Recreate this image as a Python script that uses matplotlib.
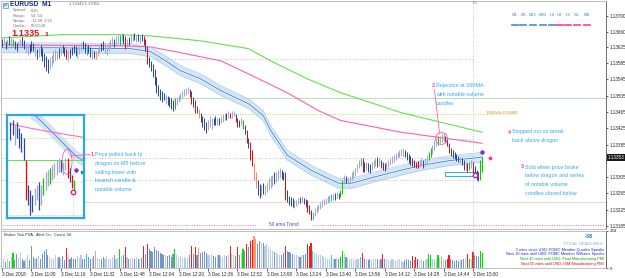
import matplotlib
matplotlib.use("Agg")
import matplotlib.pyplot as plt
from matplotlib.patches import Rectangle, Ellipse
from matplotlib.transforms import Affine2D

plt.rcParams['font.family'] = ['Liberation Sans', 'DejaVu Sans']

W, H = 625, 278
BASE = 1.13  # all prices below are in points (0.00001) above BASE

# --- M1 bars, 3 Dec 2018 from 10:44 -------------------------------------
HI = [644, 649, 639, 644, 651, 646, 644, 639, 634, 639,
      644, 649, 642, 634, 629, 632, 639, 634, 627, 620,
      624, 629, 622, 610, 602, 595, 600, 605, 615, 620,
      615, 622, 627, 629, 624, 620, 615, 620, 624, 629,
      627, 622, 627, 634, 639, 634, 627, 629, 624, 620,
      615, 615, 622, 629, 634, 639, 634, 629, 637, 644,
      649, 644, 651, 656, 654, 659, 656, 651, 644, 649,
      654, 656, 659, 654, 656, 654, 656, 651, 644, 627,
      600, 590, 583, 571, 551, 532, 522, 517, 512, 507,
      505, 502, 498, 493, 498, 502, 507, 512, 517, 522,
      524, 527, 522, 517, 502, 493, 480, 473, 463, 456,
      449, 439, 444, 454, 449, 451, 454, 449, 451, 454,
      459, 463, 461, 466, 463, 468, 468, 459, 449, 444,
      449, 444, 434, 420, 400, 390, 371, 339, 317, 298,
      288, 285, 290, 285, 293, 302, 307, 310, 317, 317,
      322, 327, 322, 317, 317, 273, 259, 256, 254, 249,
      249, 254, 256, 259, 254, 251, 249, 237, 224, 220,
      229, 234, 239, 244, 249, 251, 254, 259, 261, 263,
      263, 266, 268, 266, 273, 298, 310, 307, 302, 307,
      317, 322, 327, 337, 346, 351, 351, 342, 342, 339,
      337, 342, 346, 351, 354, 351, 346, 342, 339, 342,
      346, 351, 356, 359, 363, 366, 371, 373, 376, 371,
      366, 361, 356, 351, 346, 342, 344, 346, 351, 346,
      351, 359, 366, 376, 383, 395, 402, 405, 407, 410,
      412, 407, 400, 388, 376, 371, 366, 361, 356, 354,
      351, 346, 342, 339, 342, 346, 342, 332, 322, 317,
      346, 354]
LO = [624, 629, 620, 622, 629, 624, 627, 620, 615, 622,
      624, 627, 620, 610, 605, 610, 615, 615, 602, 595,
      600, 602, 590, 576, 566, 561, 571, 578, 585, 590,
      595, 598, 605, 610, 602, 595, 590, 598, 605, 610,
      602, 598, 607, 615, 620, 610, 605, 610, 600, 595,
      598, 595, 602, 610, 615, 617, 610, 605, 615, 622,
      627, 624, 629, 634, 629, 639, 632, 620, 624, 629,
      634, 639, 642, 637, 639, 634, 639, 629, 615, 583,
      576, 566, 551, 532, 512, 505, 493, 488, 493, 485,
      483, 478, 473, 468, 473, 483, 490, 495, 500, 505,
      507, 510, 502, 485, 478, 463, 461, 449, 439, 429,
      420, 412, 420, 429, 424, 432, 434, 432, 434, 437,
      439, 444, 446, 449, 449, 451, 454, 439, 429, 427,
      432, 424, 410, 388, 376, 346, 332, 298, 278, 261,
      254, 259, 263, 261, 268, 273, 278, 283, 288, 293,
      298, 302, 300, 298, 249, 244, 237, 234, 232, 229,
      234, 239, 242, 244, 239, 232, 220, 215, 200, 200,
      210, 217, 222, 227, 232, 237, 239, 242, 244, 246,
      249, 249, 254, 251, 256, 263, 288, 290, 288, 290,
      298, 302, 307, 317, 327, 332, 317, 317, 322, 317,
      315, 322, 327, 332, 329, 332, 327, 322, 320, 324,
      329, 334, 339, 342, 346, 351, 354, 356, 356, 354,
      346, 339, 334, 332, 329, 327, 327, 329, 334, 327,
      332, 337, 346, 354, 361, 371, 381, 385, 388, 390,
      393, 390, 381, 363, 356, 351, 349, 344, 342, 339,
      334, 322, 322, 317, 322, 327, 315, 307, 298, 295,
      298, 317]
# PVA colour class per bar: n bear, g bull, G/R climax, O/C rising volume
PVA = ''.join(["ngngngGnng", "gnnggnnngn", "gnnnnngggg", "gngnnRgnnn",
               "ngggnnCnng", "nOggnngggg", "gnggGgnRgn", "ggngngnRnR",
               "nnnnnnnnng", "nnnnGggggg", "ggnRnRnOnn", "nngggnngng",
               "ggngRggnRn", "gGnRnRROOn", "ngngggggng", "ggnnRnnnng",
               "ggngnnRRRC", "gggggggggC", "gngnGGgngg", "gggggCRngn",
               "ngggngnRng", "gggggggggn", "nnnRnRRggn", "ggGGgggGgO",
               "gnRRnnnnng", "nngRGgRnnn", "GG"])
VOL = [40, 55, 35, 60, 45, 70, 95, 50, 90, 65,
       100, 55, 45, 60, 80, 50, 140, 70, 55, 65,
       75, 60, 90, 110, 120, 85, 70, 60, 55, 80,
       65, 70, 60, 75, 50, 125, 80, 60, 70, 55,
       60, 75, 65, 80, 55, 60, 90, 70, 60, 65,
       75, 110, 65, 60, 55, 70, 60, 75, 55, 60,
       70, 80, 55, 65, 120, 75, 85, 130, 70, 60,
       55, 65, 60, 70, 55, 60, 65, 140, 90, 150,
       120, 110, 100, 130, 115, 105, 95, 90, 80, 85,
       75, 80, 70, 90, 120, 85, 70, 75, 65, 70,
       60, 65, 80, 140, 90, 130, 85, 125, 95, 100,
       110, 95, 85, 80, 90, 75, 70, 85, 80, 75,
       70, 80, 75, 85, 140, 90, 80, 75, 130, 85,
       95, 120, 110, 150, 130, 170, 180, 200, 185, 150,
       170, 160, 155, 140, 150, 130, 120, 110, 100, 95,
       90, 85, 80, 95, 140, 110, 100, 95, 90, 85,
       80, 75, 70, 80, 85, 90, 150, 140, 160, 110,
       95, 90, 85, 80, 75, 70, 65, 60, 55, 80,
       60, 55, 65, 60, 70, 110, 90, 70, 65, 60,
       60, 55, 50, 60, 55, 70, 95, 60, 55, 50,
       55, 50, 60, 55, 60, 50, 55, 90, 60, 55,
       50, 45, 55, 50, 45, 50, 55, 45, 40, 50,
       55, 50, 45, 75, 50, 70, 60, 50, 55, 45,
       50, 60, 90, 85, 60, 55, 60, 80, 65, 70,
       55, 50, 60, 85, 55, 50, 45, 50, 45, 55,
       50, 55, 65, 90, 60, 55, 100, 80, 75, 70,
       110, 95]
VOL_MAX = 234

TIME_TICKS = [0, 16, 32, 48, 64, 80, 96, 112, 128, 144, 160, 176, 192, 208, 224, 240, 256]
TIME_LABELS = ["3 Dec 2018", "3 Dec 11:00", "3 Dec 11:16", "3 Dec 11:32", "3 Dec 11:48",
               "3 Dec 12:04", "3 Dec 12:20", "3 Dec 12:36", "3 Dec 12:52", "3 Dec 13:08",
               "3 Dec 13:24", "3 Dec 13:40", "3 Dec 13:56", "3 Dec 14:12", "3 Dec 14:28",
               "3 Dec 14:44", "3 Dec 15:00"]
PRICE_TICKS = [700, 660, 625, 585, 545, 505, 465, 425, 385, 305, 265, 225, 185]
BID, ASK = 343, 353

# moving averages (bar index, price points)
MA200_I = [0, 32, 65, 81, 108, 134, 146, 166, 184, 217, 261]
MA200_P = [646, 654, 654, 651, 639, 620, 590, 546, 512, 463, 415]
MA100_I = [0, 65, 81, 97, 119, 134, 155, 172, 184, 217, 261]
MA100_P = [629, 627, 624, 610, 590, 558, 512, 468, 444, 415, 388]
DRAGON_I = [0, 32, 54, 70, 81, 89, 97, 108, 119, 134, 142, 146, 155, 168, 183, 190,
            202, 217, 228, 244, 261]
DRAGON_P = [622, 622, 620, 620, 612, 590, 566, 546, 517, 485, 456, 420, 359, 322, 290,
            290, 305, 322, 334, 346, 354]
DRAGON_HALF = 12

GREY_LEVELS = [595, 398, 351, 298]
GREEN_LEVEL = 498
DAILY_LEVEL = 460
BEIGE_LEVEL = 244
EMA_TREND_LEVEL = 188
FRI_BAR = 256

ZONE = (241, 259, 307, 317)      # bar from, bar to, low, high
REJECT = (238.6, 400)
ENTRY = (257, 310)
DOT_PURPLE = (261, 366)
DOT_PINK = (265, 351)

# --- M5 inset picture ----------------------------------------------------
M5_HI = [439, 444, 432, 439, 424, 412, 400, 346, 285, 273, 261, 278, 285, 293, 285,
         302, 317, 322, 327, 334, 339, 346, 351, 346, 342, 351, 351, 327, 310, 298]
M5_LO = [395, 407, 383, 400, 376, 366, 346, 249, 237, 212, 220, 237, 249, 224, 237,
         261, 273, 283, 288, 298, 302, 310, 317, 317, 310, 322, 302, 293, 278, 268]
M5_PVA = "nngnnnnRnnnggngGggGggggnggRnRG"
M5_MA_I = [0, 9, 18, 27, 33]
M5_MA_P = [434, 424, 415, 407, 402]
M5_DRAGON_I = [9, 12, 18, 22.6, 27, 30.3, 33]
M5_DRAGON_P = [463, 451, 420, 395, 371, 354, 346]
M5_GREEN = 346
M5_LIME = 400
M5_GREY = 293
M5_LILAC = 212
M5_VLINE = 28.5
M5_ELLIPSE = (25.8, 342)
M5_ENTRY = (28.5, 268)
M5_DOT = (29.9, 322)
M5_DOT2 = (32.6, 317)

CANDLE_COL = {'n': '#2c4a9a', 'g': '#a3a9cc', 'G': '#00cc00', 'R': '#ff0000',
              'O': '#ff8a55', 'C': '#00ccff'}
VOL_COL = {'n': '#7396c6', 'g': '#b8cce6', 'G': '#00e000', 'R': '#ff1a1a',
           'O': '#ff9a70', 'C': '#22d2f0'}

fig = plt.figure(figsize=(W / 100, H / 100), dpi=100)
fig.patch.set_facecolor('white')
px = Affine2D().scale(1.0 / W, -1.0 / H).translate(0, 1) + fig.transFigure


def box(l, t, r, b):
    return [l / W, 1 - b / H, (r - l) / W, (b - t) / H]


ax = fig.add_axes(box(1, 1, 606, 229))
vax = fig.add_axes(box(1, 231, 606, 268))
n = min(len(HI), len(LO), len(PVA), len(VOL))
XL = (-0.5, 328.3)

# main chart
ax.set_xlim(*XL)
ax.set_ylim(178, 736.6)
for lv in GREY_LEVELS:
    ax.plot([0, FRI_BAR], [lv, lv], color='#b0b0b0', lw=0.6, ls=(0, (1, 2)))
ax.axhline(GREEN_LEVEL, color='#b6e3b6', lw=0.7)
ax.plot([0, 263], [DAILY_LEVEL, DAILY_LEVEL], color='#b8e05a', lw=0.6, ls=(0, (1.5, 1.5)))
ax.axhline(BEIGE_LEVEL, color='#e3dcc8', lw=0.8)
ax.plot([0, 138], [EMA_TREND_LEVEL] * 2, color='#ff66cc', lw=0.7, ls=(0, (1, 1.5)))
ax.plot([169, 328], [EMA_TREND_LEVEL] * 2, color='#ff66cc', lw=0.7, ls=(0, (1, 1.5)))
ax.text(153.5, EMA_TREND_LEVEL, "50 ema Trend", fontsize=3.4, color='#4b4bb5',
        ha='center', va='center')
ax.axvline(FRI_BAR, color='#b0b0b0', lw=0.6, ls=(0, (1, 2)))

ax.plot(MA200_I, MA200_P, color='#66e04d', lw=0.8)
ax.plot(MA100_I, MA100_P, color='#ff5fae', lw=0.8)
dlo = [p - DRAGON_HALF for p in DRAGON_P]
dhi = [p + DRAGON_HALF for p in DRAGON_P]
ax.fill_between(DRAGON_I, dlo, dhi, color='#d3e4f7', lw=0)
ax.plot(DRAGON_I, dhi, color='#aecbee', lw=0.5)
ax.plot(DRAGON_I, dlo, color='#aecbee', lw=0.5)
ax.plot(DRAGON_I, DRAGON_P, color='white', lw=1.6)
ax.plot(DRAGON_I, DRAGON_P, color='#3f86d8', lw=0.7)

for i in range(n):
    ax.vlines(i, LO[i], HI[i], colors=CANDLE_COL[PVA[i]], lw=0.72)

ax.add_patch(Rectangle((ZONE[0], ZONE[2]), ZONE[1] - ZONE[0], ZONE[3] - ZONE[2],
                       fill=False, ec='#29aee6', lw=0.7))
ax.plot(*REJECT, 'o', ms=8.5, mfc='none', mec='#ff5fae', mew=0.7)
ax.plot(*ENTRY, 'o', ms=3.2, mfc='white', mec='#e0208a', mew=1.0)
ax.plot(*DOT_PURPLE, 'o', ms=2.2, color='#8a2be2')
ax.plot(*DOT_PINK, '*', ms=2.5, color='#ff3399')

ax.yaxis.tick_right()
ax.set_yticks(PRICE_TICKS)
ax.set_yticklabels([f"{BASE + t / 1e5:.5f}" for t in PRICE_TICKS])
ax.tick_params(axis='y', labelsize=3.3, length=1.5, width=0.5, pad=1, colors='#222222')
ax.set_xticks([])
for s in ax.spines.values():
    s.set_color('#b5b5b5')
    s.set_linewidth(0.6)
ax.spines['right'].set_color('#555555')
ax.text(1.003, ASK, f"{BASE + ASK / 1e5:.5f}", transform=ax.get_yaxis_transform(),
        fontsize=3.3, color='white', va='center', ha='left',
        bbox=dict(boxstyle='square,pad=0.15', fc='#1a1a1a', ec='none'))

# volume panel
vax.set_xlim(*XL)
vax.set_ylim(0, VOL_MAX)
vax.bar(range(n), VOL[:n], width=0.62, color=[VOL_COL[c] for c in PVA[:n]], lw=0)
vax.axvline(FRI_BAR, color='#b0b0b0', lw=0.6, ls=(0, (1, 2)))
vax.yaxis.tick_right()
vax.set_yticks([0, VOL_MAX])
vax.set_yticklabels(["0", str(VOL_MAX)])
vax.tick_params(axis='y', labelsize=3.2, length=1.5, width=0.5, pad=1, colors='#222222')
vax.set_xticks(TIME_TICKS)
vax.set_xticklabels(TIME_LABELS, ha='left')
vax.tick_params(axis='x', labelsize=3.3, length=2, width=0.5, pad=1, colors='#222222')
for s in vax.spines.values():
    s.set_color('#b5b5b5')
    s.set_linewidth(0.6)
vax.spines['right'].set_color('#555555')

# M5 inset picture
iax = fig.add_axes(box(7, 115, 84, 218))
iax.set_xlim(-1.5, 33.5)
iax.set_ylim(205, 456)
iax.set_xticks([])
iax.set_yticks([])
for s in iax.spines.values():
    s.set_color('#2aa9e0')
    s.set_linewidth(1.6)
iax.axhline(M5_LIME, color='#c2e06a', lw=0.6, ls=(0, (1.5, 1.5)))
iax.axhline(M5_GREEN, color='#66e04d', lw=0.7)
iax.axhline(M5_GREY, color='#b0b0b0', lw=0.5, ls=(0, (1, 2)))
iax.axhline(M5_LILAC, color='#c8a8e8', lw=0.6, ls=(0, (1, 1.5)))
iax.axvline(M5_VLINE, color='#b0b0b0', lw=0.5, ls=(0, (1, 2)))
mlo = [p - 15 for p in M5_DRAGON_P]
mhi = [p + 15 for p in M5_DRAGON_P]
iax.fill_between(M5_DRAGON_I, mlo, mhi, color='#d3e4f7', lw=0)
iax.plot(M5_DRAGON_I, M5_DRAGON_P, color='#3f86d8', lw=0.6)
iax.plot(M5_MA_I, M5_MA_P, color='#ff5fae', lw=0.7)
for k in range(len(M5_HI)):
    iax.vlines(k, M5_LO[k], M5_HI[k], colors=CANDLE_COL[M5_PVA[k]], lw=0.9)
iax.add_patch(Ellipse(M5_ELLIPSE, 4.5, 61, fill=False, ec='#ff5fae', lw=0.6))
iax.plot(*M5_ENTRY, 'o', ms=3.2, mfc='white', mec='#e0208a', mew=1.0)
iax.plot(*M5_DOT, 'o', ms=2.2, color='#8a2be2')
iax.plot(*M5_DOT2, 's', ms=1.6, color='#2a7fd4')

# header texts
fig.add_artist(Rectangle((2.5, 2.5), 5, 5, transform=px, fc='#dbe9f7', ec='#3a78c8', lw=0.4))
fig.add_artist(plt.Line2D([3.3, 4.8, 5.8, 7.0], [6.5, 4.5, 5.5, 3.3], transform=px,
                          color='#1aa64a', lw=0.5))
fig.text(10, 5, "EURUSD  M1", transform=px, fontsize=4.8, fontweight='bold',
         color='#1a237e', va='center')
for k, (lab, val) in enumerate([("Spread:", "0.20"), ("Range:", "54, 54"),
                                ("Swaps:", "-11.56, 0.52"), ("Candle:", "00:00:28")]):
    fig.text(13, 10.5 + 5.2 * k, lab, transform=px, fontsize=2.9, color='#707070', va='center')
    fig.text(31, 10.5 + 5.2 * k, val, transform=px, fontsize=2.9, color='#707070', va='center')
fig.text(11, 34, f"{BASE + ASK / 1e5:.5f}"[:-1], transform=px, fontsize=6.6,
         fontweight='bold', color='#e8101e', va='center')
fig.text(45, 35, f"{BASE + ASK / 1e5:.5f}"[-1], transform=px, fontsize=4.2,
         fontweight='bold', color='#e8101e', va='center')
fig.text(69, 4, f"{BASE + BID / 1e5:.5f} {BASE + ASK / 1e5:.5f}", transform=px,
         fontsize=2.9, color='#606060', va='center')
fig.text(473, 3.5, "Fri", transform=px, fontsize=2.9, color='#8a6aa0', va='center')

tfs = ["M1", "M5", "M15", "M30", "H1", "H4", "D1", "W1", "MN"]
tfx = [515, 523, 533, 543, 552, 559.5, 568, 577, 587]
for k, (t, x) in enumerate(zip(tfs, tfx)):
    c = '#3d8ee0' if k < 5 else '#ff3f8f'
    fig.text(x, 15, t, transform=px, fontsize=2.9, color='#4f8ad8', ha='center', va='center')
    fig.add_artist(plt.Line2D([x - 3.3, x + 3.3], [25, 25], transform=px, color=c, lw=1.2))

# annotations
BLUE = '#36a6ee'
PINK = '#ff3d9a'


def note(x, y, num, lines, dy=8.8):
    fig.text(x, y, num, transform=px, fontsize=3.9, color=PINK, va='center', fontweight='bold')
    for k, ln in enumerate(lines):
        fig.text(x + 4, y + dy * k, ln, transform=px, fontsize=3.9, color=BLUE, va='center')


note(91, 154.5, "1", ["Price pulled back to", "dragon on M5 before", "selling lower with",
                      "bearish candle &", "notable volume"])
note(432, 85.5, "2", ["Rejection at 200MA", "with notable volume", "candles"])
note(508, 132, "4", ["Stopped out on break", "back above dragon"])
note(521, 167, "3", ["Sold when price broke", "below dragon and series",
                     "of notable volume", "candles closed below"])
fig.add_artist(plt.Line2D([70, 90], [156, 154.5], transform=px, color='#ff5fae', lw=0.6))
fig.add_artist(plt.Line2D([434.5, 439.5], [90, 133], transform=px, color='#ff5fae', lw=0.6))
fig.text(487, 113, f"[D]Daily {BASE + DAILY_LEVEL / 1e5:.5f}", transform=px, fontsize=3.0,
         color='#d9966a', va='center', bbox=dict(boxstyle='square,pad=0.1', fc='#f4f8d8', ec='none'))

# volume panel texts
fig.text(4, 234.5, "Broker Tick PVA:  Alert On,  Count: 56", transform=px, fontsize=2.9,
         color='#303030', va='center')
fig.text(593, 237, "-38", transform=px, fontsize=4.0, color='#1e73be', fontweight='bold',
         ha='right', va='center')
fig.text(604, 244, "FOCAL HEADLINES:", transform=px, fontsize=3.0, color='#8fa9c6',
         ha='right', va='center')
heads = [("5 mins since USD: FOMC Member Quarles Speaks", '#2424c8'),
         ("Next 10 mins until USD: FOMC Member Williams Speaks", '#2424c8'),
         ("Next 43 mins until USD: Final Manufacturing PMI", '#10a010'),
         ("Next 55 mins until USD: ISM Manufacturing PMI", '#e00000')]
for k, (t, c) in enumerate(heads):
    fig.text(604, 249.5 + 4.9 * k, t, transform=px, fontsize=2.8, color=c, ha='right', va='center')

fig.savefig("out.png", dpi=100, facecolor='white')
